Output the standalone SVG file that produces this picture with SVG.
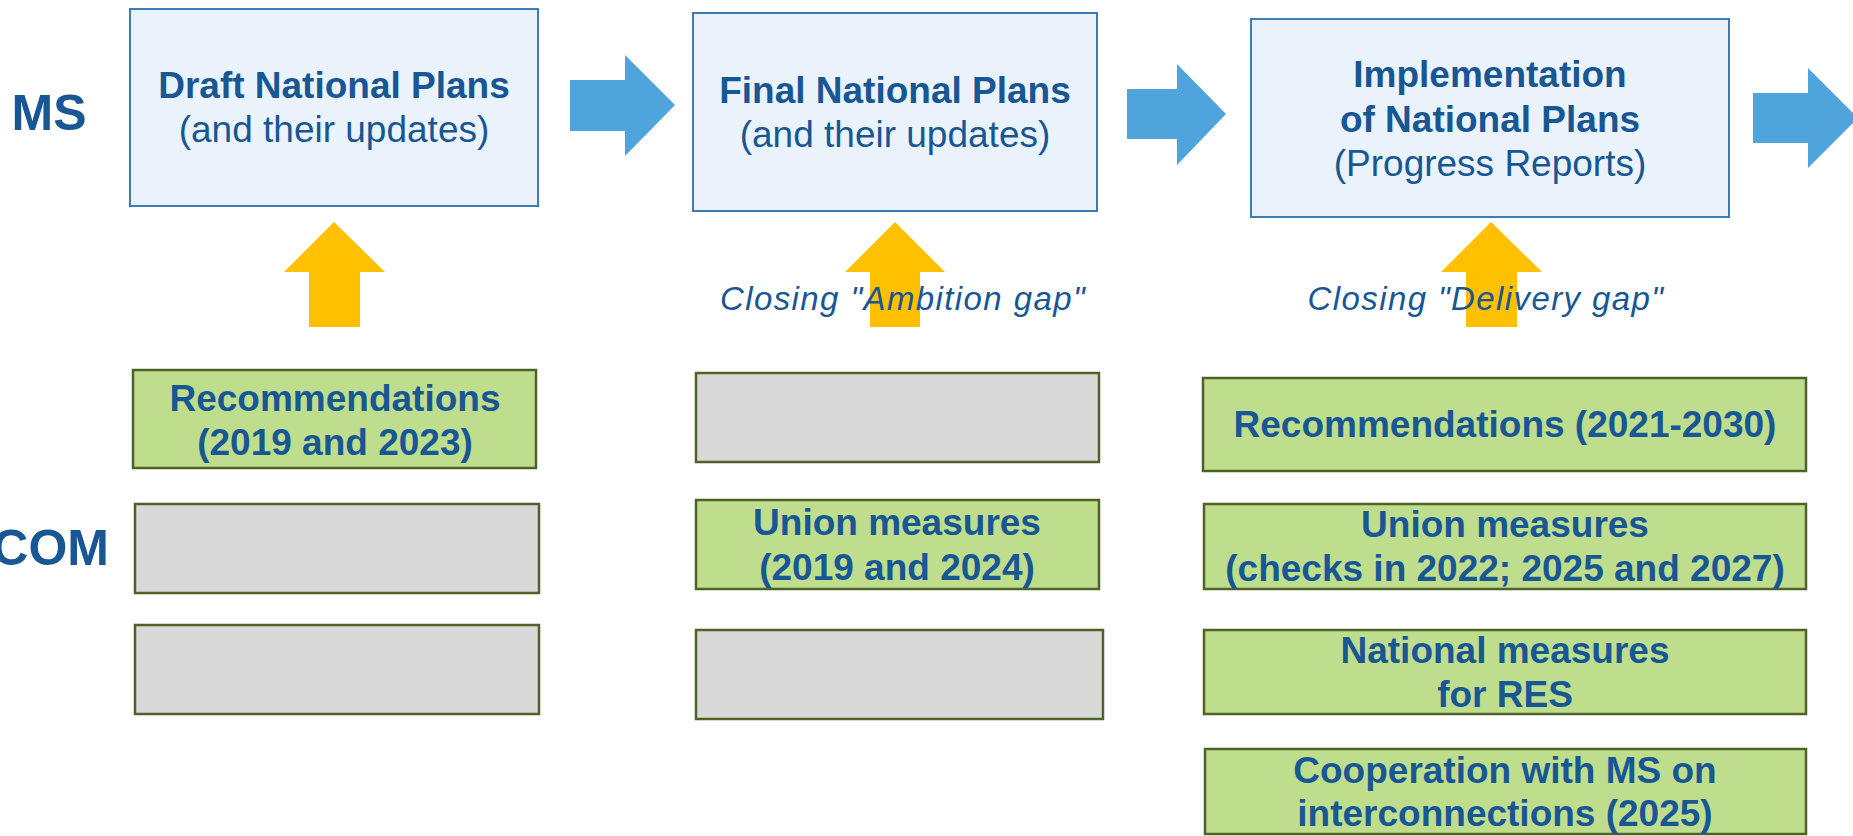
<svg xmlns="http://www.w3.org/2000/svg" width="1853" height="836" viewBox="0 0 1853 836">
<style>
text{font-family:"Liberation Sans",Arial,sans-serif;fill:#195694;text-anchor:middle}
.b{font-weight:bold;font-size:37px}
.r{font-size:37px}
.lab{font-weight:bold;font-size:50px}
.it{font-style:italic;font-size:33px;letter-spacing:1.4px}
.plan{fill:#EAF3FB;stroke:#3C7DB8;stroke-width:2}
.grn{fill:#BEDE8D;stroke:#4F6228;stroke-width:2.5}
.gry{fill:#D9D9D9;stroke:#4F6228;stroke-width:2.5}
.ba{fill:#4EA4DB}
.ya{fill:#FFC000}
</style>
<rect width="1853" height="836" fill="#FFFFFF"/>
<g id="label-ms"><text class="lab" x="49" y="130">MS</text></g>
<g id="label-com"><text class="lab" x="109" y="565" style="text-anchor:end">COM</text></g>
<g id="connectors">
<polygon class="ba" points="570,80 625,80 625,55 675,105 625,156 625,131 570,131"/>
<polygon class="ba" points="1127,89 1177,89 1177,64 1226,114 1177,165 1177,139 1127,139"/>
<polygon class="ba" points="1753,93 1808,93 1808,68 1858,118 1808,168 1808,143 1753,143"/>
<polygon class="ya" points="334,222 385,272 360,272 360,327 309,327 309,272 284,272"/>
<polygon class="ya" points="895,222 945,272 920,272 920,327 870,327 870,272 845,272"/>
<polygon class="ya" points="1491,222 1542,272 1517,272 1517,327 1466,327 1466,272 1441,272"/>
</g>
<g id="draft">
<rect class="plan" x="130" y="9" width="408" height="197"/>
<text class="b" x="334" y="98">Draft National Plans</text>
<text class="r" x="334" y="142">(and their updates)</text>
</g>
<g id="final">
<rect class="plan" x="693" y="13" width="404" height="198"/>
<text class="b" x="895" y="103">Final National Plans</text>
<text class="r" x="895" y="147">(and their updates)</text>
</g>
<g id="impl">
<rect class="plan" x="1251" y="19" width="478" height="198"/>
<text class="b" x="1490" y="87">Implementation</text>
<text class="b" x="1490" y="132">of National Plans</text>
<text class="r" x="1490" y="176">(Progress Reports)</text>
</g>
<g id="ambition-gap"><text class="it" x="903" y="310">Closing "Ambition gap"</text></g>
<g id="delivery-gap"><text class="it" x="1486" y="310">Closing "Delivery gap"</text></g>
<g id="rec1">
<rect class="grn" x="133" y="370" width="403" height="98"/>
<text class="b" x="335" y="411">Recommendations</text>
<text class="b" x="335" y="455">(2019 and 2023)</text>
</g>
<g id="gray1"><rect class="gry" x="135" y="504" width="404" height="89"/></g>
<g id="gray2"><rect class="gry" x="135" y="625" width="404" height="89"/></g>
<g id="gray3"><rect class="gry" x="696" y="373" width="403" height="89"/></g>
<g id="union1">
<rect class="grn" x="696" y="500" width="403" height="89"/>
<text class="b" x="897" y="535">Union measures</text>
<text class="b" x="897" y="580">(2019 and 2024)</text>
</g>
<g id="gray4"><rect class="gry" x="696" y="630" width="407" height="89"/></g>
<g id="rec2">
<rect class="grn" x="1203" y="378" width="603" height="93"/>
<text class="b" x="1505" y="437">Recommendations (2021-2030)</text>
</g>
<g id="union2">
<rect class="grn" x="1204" y="504" width="602" height="85"/>
<text class="b" x="1505" y="537">Union measures</text>
<text class="b" x="1505" y="581">(checks in 2022; 2025 and 2027)</text>
</g>
<g id="national">
<rect class="grn" x="1204" y="630" width="602" height="84"/>
<text class="b" x="1505" y="663">National measures</text>
<text class="b" x="1505" y="707">for RES</text>
</g>
<g id="cooperation">
<rect class="grn" x="1205" y="749" width="601" height="85"/>
<text class="b" x="1505" y="783">Cooperation with MS on</text>
<text class="b" x="1505" y="826">interconnections (2025)</text>
</g>
</svg>
